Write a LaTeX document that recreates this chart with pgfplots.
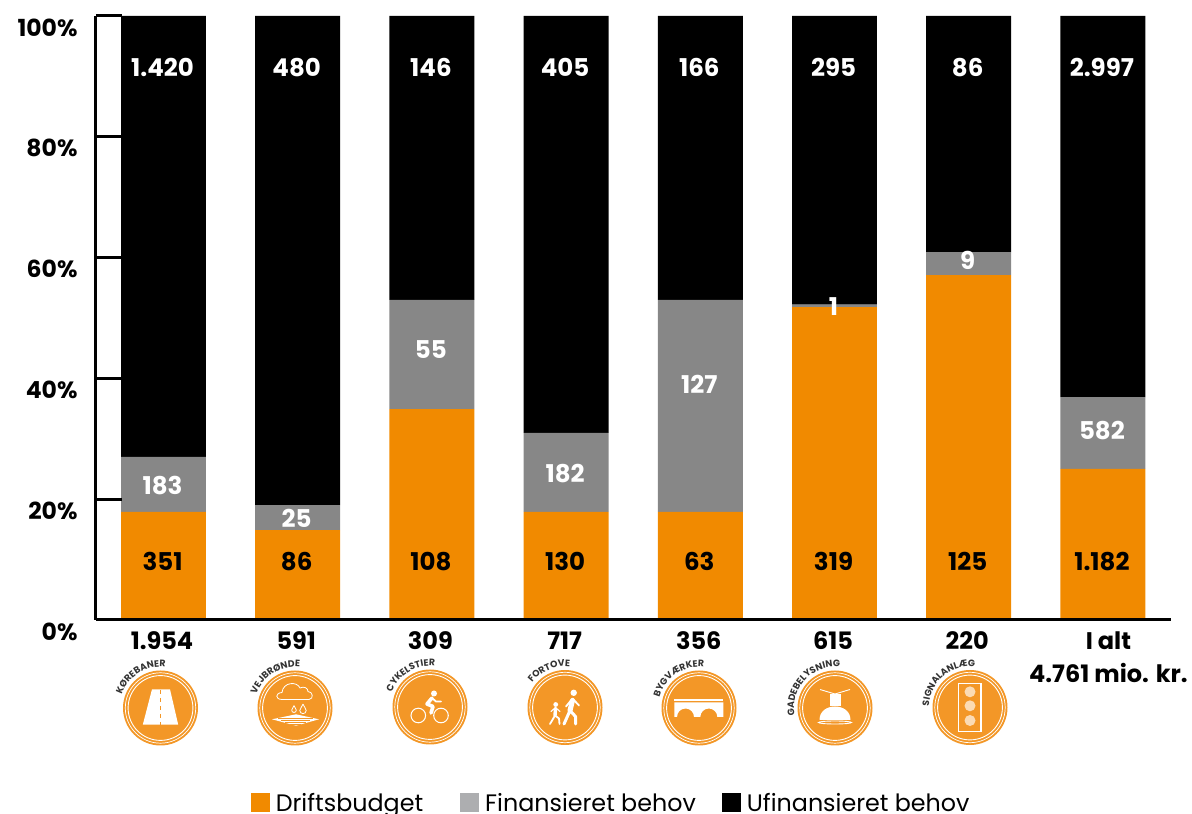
\documentclass[border=0pt]{standalone}
\usepackage{fontspec}
\setmainfont{Poppins}
\usepackage{pgfplots}
\pgfplotsset{compat=1.18}
\usepackage{pgfplotstable}
\usetikzlibrary{decorations.text}
\definecolor{barorange}{HTML}{F18A00}
\definecolor{icoorange}{HTML}{F39727}
\definecolor{bargray}{HTML}{878787}
\definecolor{leggray}{HTML}{ADAEB0}
\definecolor{curvetxt}{HTML}{333333}
\newcommand\bigb{\fontsize{23.5}{27}\selectfont\bfseries}
\newcommand\xlab{\fontsize{24}{27}\selectfont\bfseries}
\newcommand\inb{\fontsize{24.5}{27}\selectfont\bfseries}
\pgfplotstableread{
x  o    g    b
0  17.9 9.1  73.0
1  14.9 4.1  81.0
2  34.9 18.1 47.0
3  17.9 13.1 69.0
4  17.9 35.1 47.0
5  51.8 0.4  47.8
6  57.1 3.8  39.1
7  25.0 11.9 63.1
}\bars
\pgfplotstableread{
x y l
0 9.7 351
1 9.7 86
2 9.7 108
3 9.7 130
4 9.7 63
5 9.7 319
6 9.7 125
7 9.7 1.182
}\lo
\pgfplotstableread{
x y l
0 22.2 183
1 16.9 25
2 44.8 55
3 24.2 182
4 39.0 127
5 51.9 1
6 59.5 9
7 31.4 582
}\lg
\pgfplotstableread{
x y l
0 91.5 1.420
1 91.5 480
2 91.5 146
3 91.5 405
4 91.5 166
5 91.5 295
6 91.5 86
7 91.5 2.997
}\lb
% icon frame
\newcommand\frameicon[4]{% cx cy(from top) name startangle
  \begin{scope}[shift={(#1pt,{814pt-#2pt})},x=1pt,y=1pt]
    \fill[icoorange] (0,0) circle (37.5);
    \draw[white,line width=.7] (0,0) circle (35.2);
    \draw[white,line width=.9] (0,0) circle (32.4);
    \path[decorate,decoration={text along path,text align=right,
      text={|\fontsize{9.3}{10}\selectfont\bfseries\color{curvetxt}|#3}}]
      (#4:41) arc (#4:83:41);
  \end{scope}}
\newcommand\inicon[3]{\begin{scope}[shift={(#1pt,{814pt-#2pt})},x=1pt,y=1pt]#3\end{scope}}
\newcommand\drop[3]{\draw[white,line width=.8] (#1,#2+#3*1.7) .. controls (#1-#3*.3,#2+#3*.7) and (#1-#3,#2+#3*.3) .. (#1-#3,#2-#3*.3) arc (180:360:#3) .. controls (#1+#3,#2+#3*.3) and (#1+#3*.3,#2+#3*.7) .. (#1,#2+#3*1.7);}
\begin{document}
\begin{tikzpicture}
\useasboundingbox (0,0) rectangle (1192pt,814pt);
\begin{axis}[
  at={(96pt,194pt)},anchor=south west,
  scale only axis,width=1075pt,height=604pt,
  ybar stacked,bar width=0.633,
  xmin=-0.503,xmax=7.507,ymin=0,ymax=100,
  axis y line=left,axis x line=bottom,
  axis line style={line width=3pt,-},
  axis on top,
  xtick=data,
  xticklabels={1.954,591,309,717,356,615,220,{\hspace*{14pt}I alt\\[6pt]\hspace*{14pt}4.761 mio. kr.}},
  x tick style={draw=none},
  xticklabel style={font=\xlab,align=center,yshift=-8.5pt,xshift=-1.5pt},
  ytick={0,20,40,60,80,100},
  yticklabels={0\%,20\%,40\%,60\%,80\%,100\%},
  yticklabel style={font=\bigb,yshift=-11.5pt,xshift=-15pt},
  y tick style={line width=3pt,black},
  tick align=inside,
  major tick length=26pt,
  clip=false,
  legend columns=-1,
  legend style={at={(0.144,-0.3235)},anchor=south west,draw=none,fill=none,inner sep=0pt,outer sep=0pt,
    font=\fontsize{23.8}{27}\selectfont,
    /tikz/every even column/.append style={column sep=8pt},
    /tikz/every odd column/.append style={column sep=4pt},
    cells={anchor=west}},
  legend image code/.code={\fill[#1,draw=none] (0pt,-8pt) rectangle (19pt,11pt);},
]
\addplot[fill=barorange,draw=none,forget plot] table[x=x,y=o]{\bars};
\addplot[fill=bargray,draw=none,forget plot] table[x=x,y=g]{\bars};
\addplot[fill=black,draw=none,forget plot] table[x=x,y=b]{\bars};
\addlegendimage{fill=barorange}
\addlegendentry{Driftsbudget\hspace*{27pt}}
\addlegendimage{fill=leggray}
\addlegendentry{Finansieret behov\hspace*{16pt}}
\addlegendimage{fill=black}
\addlegendentry{Ufinansieret behov}
\end{axis}
\begin{axis}[
  at={(96pt,194pt)},anchor=south west,
  scale only axis,width=1075pt,height=604pt,
  xmin=-0.503,xmax=7.507,ymin=0,ymax=100,
  axis lines=none,
  point meta=explicit symbolic,
  nodes near coords,
  every node near coord/.append style={anchor=center,font=\inb,xshift=-1pt},
]
\addplot[only marks,mark=none,nodes near coords style={text=black}] table[x=x,y=y,meta=l]{\lo};
\addplot[only marks,mark=none,nodes near coords style={text=white}] table[x=x,y=y,meta=l]{\lg};
\addplot[only marks,mark=none,nodes near coords style={text=white}] table[x=x,y=y,meta=l]{\lb};
\end{axis}
% icons
\frameicon{160.5}{708}{KØREBANER}{185}
\frameicon{295}{708}{VEJBRØNDE}{185}
\frameicon{430}{707}{CYKELSTIER}{185}
\frameicon{565}{707.5}{FORTOVE}{185}
\frameicon{699}{708}{BYGVÆRKER}{185}
\frameicon{835}{708}{GADEBELYSNING}{200}
\frameicon{970}{707.5}{SIGNALANLÆG}{190}
% road
\inicon{160.5}{708}{
  \fill[white] (-8.5,18.7) -- (9.5,18.7) -- (17.7,-16.7) -- (-17.7,-16.7) -- cycle;
  \draw[icoorange,line width=1.6,dash pattern=on 4.5pt off 3.5pt] (0,18) -- (0,-16.7);
}
% drain
\inicon{295}{708}{
  \draw[white,line width=.8] (-13,8.5) .. controls (-20,8.5) and (-20,15) .. (-13,15.5) .. controls (-12,26) and (2,27) .. (5,20) .. controls (9,22) and (13,20) .. (13,16.5) .. controls (18,16.5) and (19,9) .. (14,8.5) -- cycle;
  \drop{-1}{-1.5}{2.3}\drop{8}{-1.5}{3.2}
  \fill[white] (-23,-11.3) -- (1,-6.3) -- (24,-11.3) -- (1,-17.7) -- cycle;
  \draw[icoorange,line width=.25] (-17,-10) -- (18,-10) (-14,-12) -- (15,-12) (-10,-14) -- (11,-14) (-5,-16) -- (6,-16);
}
% bike
\inicon{430}{707}{
  \draw[white,line width=1] (-11.7,-8.5) circle (7.3) (11,-8.5) circle (7.3);
  \fill[white] (4,13.5) circle (3);
  \draw[white,line width=3.6,line cap=round,line join=round] (2,9) -- (-3,3) -- (3,0.5) -- (1,-6);
  \draw[white,line width=1.8,line cap=round,line join=round] (2,9) -- (6,5.5) -- (11,5.5);
}
% pedestrians
\inicon{565}{707.5}{
  \fill[white] (8.7,14.7) circle (3.2) (-9.3,3) circle (2.4);
  \begin{scope}[white,line cap=round,line join=round]
    \draw[line width=5] (7.5,7) -- (5,-3);
    \draw[line width=3] (5,-3) -- (-1,-16.5) (5,-3) -- (10.5,-9) -- (10.5,-16.5);
    \draw[line width=1.8] (7.5,9) -- (14,2) (7.5,9) -- (1,1);
    \draw[line width=3.4] (-9.5,-1) -- (-10,-8);
    \draw[line width=1.8] (-10,-8) -- (-15,-16.5) (-10,-8) -- (-6,-11) -- (-5.5,-16.5);
    \draw[line width=1.1] (-9.5,0) -- (-14,-4) (-9.5,0) -- (-5,-4);
  \end{scope}
}
% bridge
\inicon{699}{708}{
  \fill[white] (-24.7,8.7) rectangle (24.3,6.8);
  \fill[white] (-24.7,5.5) -- (24.3,5.5) -- (24.3,-9) -- (18.3,-9) arc (0:180:8.5) -- (-5,-9) arc (0:180:8.5) -- (-24.7,-9) -- cycle;
}
% lamp
\inicon{835}{708}{
  \draw[white,line width=.9] (-15,18.5) -- (0,14) -- (15,18.5);
  \fill[white] (-5.5,13.5) rectangle (5.5,2);
  \fill[white] (-15.5,-12) .. controls (-15.5,-3) and (-8,1.5) .. (0,1.5) .. controls (8,1.5) and (15.5,-3) .. (15.5,-12) -- cycle;
  \draw[white,line width=.9] (0,-14.5) ellipse (16.5 and 1.5);
}
% signal
\inicon{970}{707.5}{
  \draw[white,line width=1.8] (-11.5,24) rectangle (11,-24);
  \fill[white!65!icoorange] (0,15.7) circle (5.5) (0,1.7) circle (5.5) (0,-13) circle (5.5);
}
\end{tikzpicture}
\end{document}
